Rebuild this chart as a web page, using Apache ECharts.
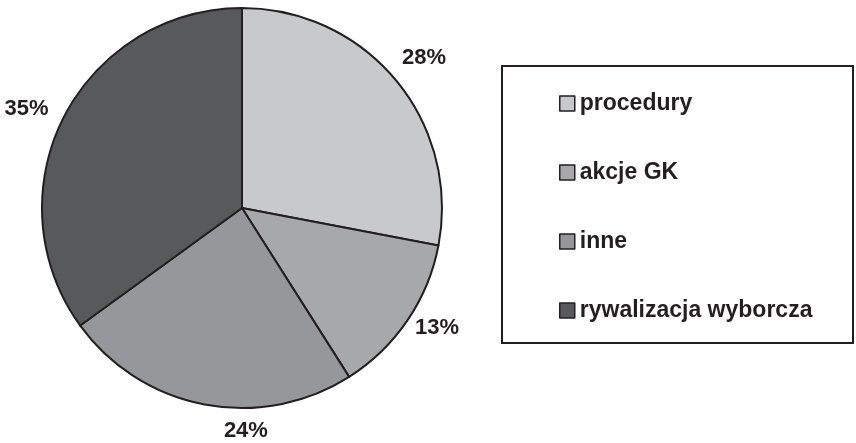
<!DOCTYPE html>
<html>
<head>
<meta charset="utf-8">
<script src="https://cdn.jsdelivr.net/npm/echarts@6/dist/echarts.min.js"></script>
<style>
  html, body { margin: 0; padding: 0; background: #fff; }
  #chart { width: 856px; height: 443px; }
</style>
</head>
<body>
<div id="chart"></div>
<script>
// Shares of categories (percent)
const categories = ['procedury', 'akcje GK', 'inne', 'rywalizacja wyborcza'];
const shares = [28, 13, 24, 35];
const sliceColors = ['#c8c9cb', '#a7a8aa', '#96979a', '#58595b'];

// Pie geometry
const CX = 242, CY = 208, R = 200;
// Where each percentage label sits: angle clockwise from 12 o'clock and distance from centre
const labelAngleDeg = [50.5, 121.6, 179, 294.6];
const labelDist = [236, 229, 223, 237];

const ink = '#231f20';
const font = 'Arial, "Liberation Sans", Helvetica, sans-serif';

const chart = echarts.init(document.getElementById('chart'), null, { renderer: 'canvas' });

chart.setOption({
  animation: false,
  backgroundColor: '#ffffff',
  graphic: [{
    type: 'rect',
    shape: { x: 502, y: 66, width: 351, height: 277 },
    style: { fill: 'none', stroke: ink, lineWidth: 2 },
    z: 0
  }],
  legend: {
    orient: 'vertical',
    left: 554,
    top: 87,
    itemWidth: 15,
    itemHeight: 15,
    itemGap: 46,
    icon: 'rect',
    itemStyle: { borderColor: ink, borderWidth: 1.5 },
    textStyle: {
      fontFamily: font,
      fontWeight: 'bold',
      fontSize: 23,
      color: ink,
      padding: [0, 0, 0, 0]
    },
    data: categories
  },
  series: [{
    type: 'pie',
    center: [CX, CY],
    radius: [0, R],
    startAngle: 90,
    clockwise: true,
    avoidLabelOverlap: false,
    itemStyle: { borderColor: ink, borderWidth: 2 },
    label: {
      show: true,
      position: 'outside',
      formatter: '{c}%',
      fontFamily: font,
      fontWeight: 'bold',
      fontSize: 22,
      color: ink
    },
    labelLine: { show: false },
    labelLayout: function (params) {
      const i = params.dataIndex;
      const a = labelAngleDeg[i] * Math.PI / 180;
      return {
        x: CX + labelDist[i] * Math.sin(a),
        y: CY - labelDist[i] * Math.cos(a),
        align: 'center',
        verticalAlign: 'middle'
      };
    },
    emphasis: { disabled: true },
    data: categories.map((name, i) => ({
      name: name,
      value: shares[i],
      itemStyle: { color: sliceColors[i] }
    }))
  }]
});
</script>
</body>
</html>
